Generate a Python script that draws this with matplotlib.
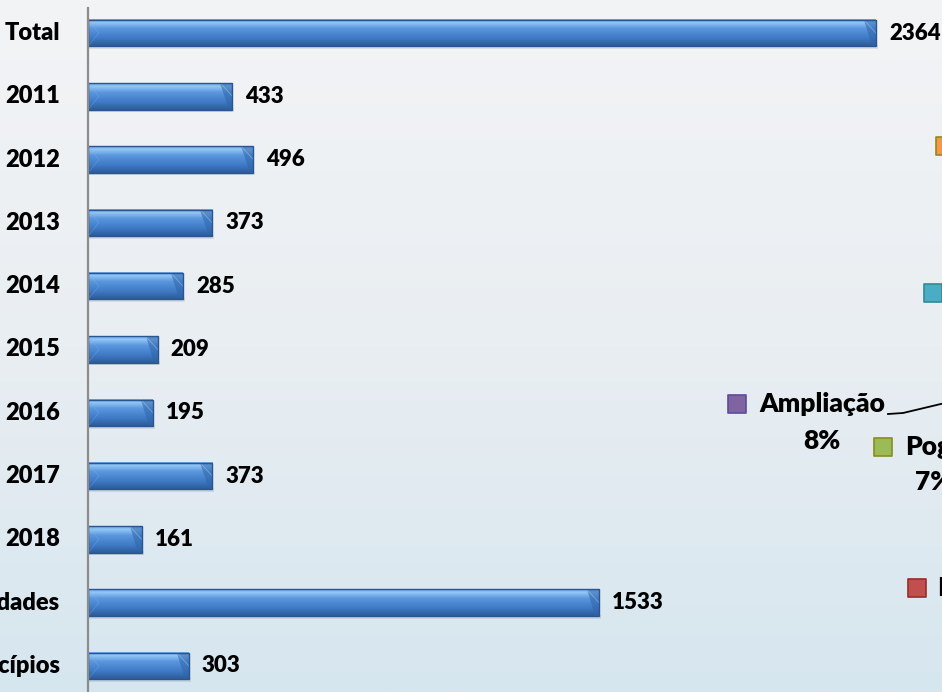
import numpy as np
import matplotlib
matplotlib.use("Agg")
from matplotlib import pyplot as plt
from matplotlib.colors import LinearSegmentedColormap
from matplotlib.patches import Polygon, Rectangle

categories = ["Total", "2011", "2012", "2013", "2014", "2015", "2016", "2017", "2018",
              "Unidades", "Municípios"]
values = [2364, 433, 496, 373, 285, 209, 195, 373, 161, 1533, 303]

# pie labels that are partly visible on the right edge of the slide
pie_names = ["Ampliação", "Pog", "Reforma", "", ""]
pie_pcts = ["8%", "7%", "", "", ""]
pie_colors = ["#8064a2", "#9bbb59", "#c0504d", "#f79646", "#4bacc6"]
pie_edges = ["#5b4a9c", "#8c8c1e", "#9a2b28", "#8c8c1e", "#2e8b98"]

FONT = "Lato"
WEIGHT = "heavy"

fig = plt.figure(figsize=(9.42, 6.92), dpi=100)

# slide background gradient
bg = fig.add_axes([0, 0, 1, 1])
bg_cmap = LinearSegmentedColormap.from_list("bg", ["#f3f4f6", "#e9eef2", "#d6e6ef"])
bg.imshow(np.linspace(0, 1, 256).reshape(-1, 1), aspect="auto", cmap=bg_cmap,
          extent=[0, 1, 0, 1], origin="upper")
bg.set_axis_off()

# bar chart
x0_px, xend_px = 88, 876
scale = (xend_px - x0_px) / values[0]
ax = fig.add_axes([x0_px / 942, 0, 1 - x0_px / 942, 1])
ax.patch.set_alpha(0)
ax.set_axis_off()

bar_cmap = LinearSegmentedColormap.from_list(
    "bar", [(0, "#6aa8ec"), (0.12, "#92c6f6"), (0.35, "#5a96de"),
            (0.7, "#3f7bc6"), (1, "#2d5c99")])
grad = np.linspace(0, 1, 64).reshape(-1, 1)
h = 0.42
d = 12 / scale
pos = np.arange(len(values))

for i, v in zip(pos, values):
    top, bot = i - h / 2, i + h / 2
    ax.add_patch(Rectangle((0, bot - 0.02), v + 6, 0.06, color="#6b7f95", alpha=0.18, lw=0))
    ax.imshow(grad, extent=[0, v, bot, top], aspect="auto", cmap=bar_cmap,
              origin="upper", zorder=2)
    ax.add_patch(Polygon([(v - d, top), (v, top), (v, bot), (v - d * 0.3, bot)],
                         closed=True, color="#2f65a9", alpha=0.55, lw=0, zorder=3))
    ax.plot([v - d, v], [top, i], color="#a9d0f5", lw=0.6, alpha=0.5, zorder=3)
    ax.plot([0, d * 0.9, 0], [top, i, bot], color="#7fb4ec", lw=0.6, alpha=0.35, zorder=3)
    ax.add_patch(Rectangle((0, top), v, h, fill=False, ec="#2a5590", lw=1, zorder=4))
    ax.text(v + 13 / scale, i, str(v), ha="left", va="center", fontsize=16,
            fontweight=WEIGHT, family=FONT, color="black", zorder=5)
    ax.text(-28 / scale, i, categories[i], ha="right", va="center", fontsize=17,
            fontweight=WEIGHT, family=FONT, color="black", clip_on=False)

ax.plot([0, 0], [-0.4, 11], color="#8c8c8c", lw=1.6, zorder=6, clip_on=False)

ax.set_xlim(0, (942 - x0_px) / scale)
ax.set_ylim((692 - 33) / 63.3, -33 / 63.3)

# pie chart labels (pie itself is off to the right)
ov = fig.add_axes([0, 0, 1, 1])
ov.patch.set_alpha(0)
ov.set_axis_off()
ov.set_xlim(0, 942)
ov.set_ylim(692, 0)

sq_pos = [(737, 404), (883, 447), (917, 588), (945, 146), (933, 293)]
name_pos = [(759, 404), (905, 447), (937, 588), None, None]
pct_pos = [(822, 441), (934, 482), None, None, None]
for k in range(len(pie_colors)):
    ov.scatter([sq_pos[k][0]], [sq_pos[k][1]], marker="s", s=150, color=pie_colors[k],
               edgecolors=pie_edges[k], linewidths=1.2, zorder=5, clip_on=False)
    if name_pos[k] and pie_names[k]:
        ov.text(name_pos[k][0], name_pos[k][1], pie_names[k], ha="left", va="center",
                fontsize=19, fontweight=WEIGHT, family=FONT, color="black")
    if pct_pos[k] and pie_pcts[k]:
        ov.text(pct_pos[k][0], pct_pos[k][1], pie_pcts[k], ha="center", va="center",
                fontsize=19, fontweight=WEIGHT, family=FONT, color="black")

ov.plot([888, 903, 945], [414, 413, 403], color="black", lw=1.3)

fig.savefig("out.png", dpi=100)
